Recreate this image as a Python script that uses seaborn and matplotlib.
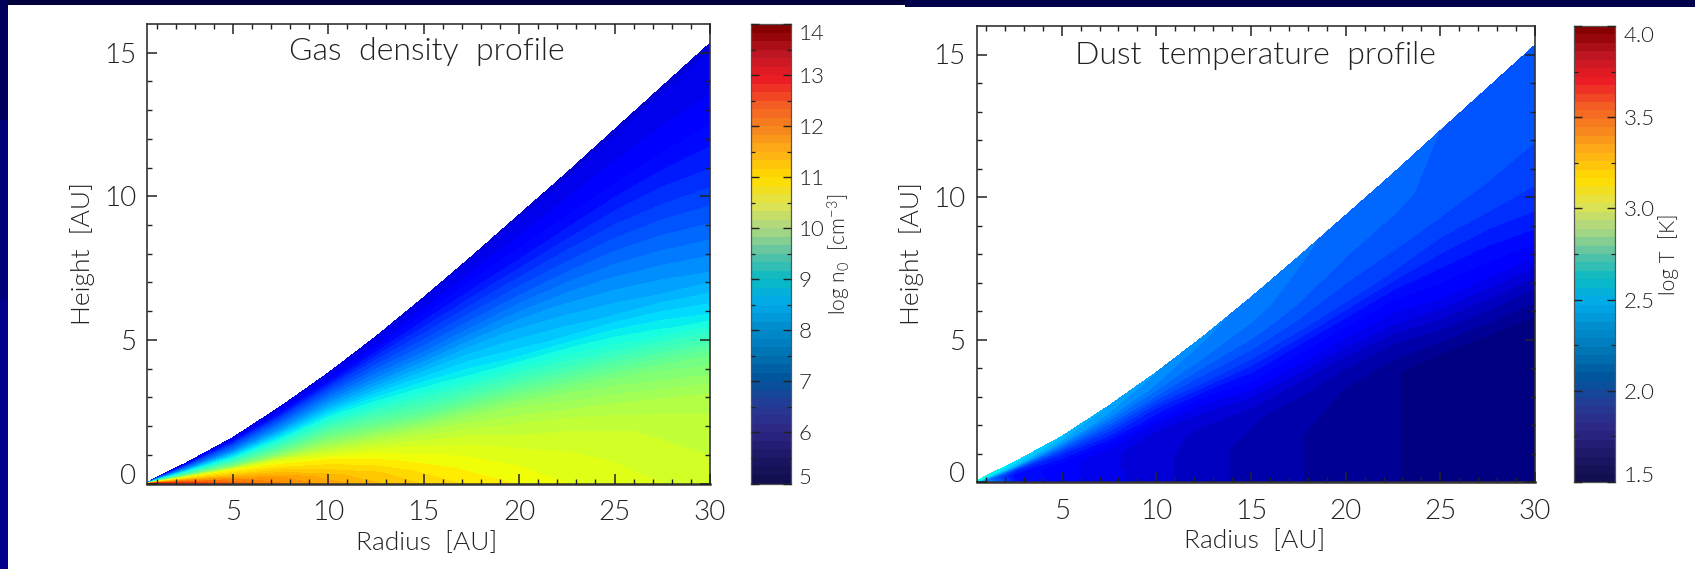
import numpy as np
import pandas as pd
import matplotlib
matplotlib.use('Agg')
import matplotlib.pyplot as plt
import seaborn as sns
from matplotlib.colors import ListedColormap
from matplotlib.patches import Rectangle

radii = [0.5, 1, 2.5, 5, 7.5, 10, 12.5, 15, 17.5, 20, 22.5, 25, 27.5, 30]
surface_height = [0.03, 0.22, 0.7, 1.6, 2.68, 3.85, 5.12, 6.48, 7.9, 9.36, 10.82, 12.33, 13.83, 15.33]

# heights as a share of the disc surface, one row per radius
gas_fractions = [0, .07, .14, .21, .29, .38, .48, .59, .7, .85, .95, 1]
gas_log_n = [
    [13.6, 12.8, 12.0, 11.3, 10.8, 9.5, 8.8, 8.15, 7.4, 6.7, 6.0, 5.8],
    [13.3, 12.6, 11.9, 11.3, 10.8, 9.5, 8.8, 8.15, 7.4, 6.7, 6.0, 5.8],
    [12.8, 12.3, 11.8, 11.2, 10.8, 9.5, 8.8, 8.15, 7.4, 6.7, 6.0, 5.8],
    [12.2, 11.9, 11.5, 11.1, 10.8, 9.5, 8.8, 8.15, 7.4, 6.7, 6.0, 5.8],
    [11.85, 11.7, 11.35, 11.0, 10.65, 9.6, 8.92, 8.28, 7.52, 6.72, 6.0, 5.8],
    [11.6, 11.4, 11.1, 10.87, 10.3, 9.68, 9.05, 8.4, 7.65, 6.75, 6.0, 5.8],
    [11.35, 11.2, 10.92, 10.65, 10.15, 9.42, 8.8, 8.15, 7.42, 6.6, 5.97, 5.8],
    [11.15, 10.95, 10.72, 10.45, 9.97, 9.15, 8.55, 7.9, 7.2, 6.45, 5.95, 5.8],
    [10.95, 10.78, 10.6, 10.34, 9.88, 9.05, 8.32, 7.75, 7.1, 6.35, 5.92, 5.8],
    [10.82, 10.65, 10.47, 10.23, 9.8, 8.94, 8.1, 7.6, 7.0, 6.25, 5.9, 5.8],
    [10.67, 10.56, 10.43, 10.17, 9.67, 8.77, 7.95, 7.45, 6.9, 6.2, 5.9, 5.8],
    [10.6, 10.48, 10.36, 10.1, 9.57, 8.6, 7.8, 7.3, 6.8, 6.15, 5.9, 5.8],
    [10.5, 10.39, 10.29, 10.03, 9.45, 8.4, 7.65, 7.15, 6.68, 6.1, 5.9, 5.8],
    [10.42, 10.32, 10.23, 9.97, 9.32, 8.2, 7.5, 7.0, 6.55, 6.05, 5.9, 5.8],
]

dust_fractions = [0, .2, .35, .45, .52, .6, .68, .78, .88, 1]
dust_log_t = [
    [2.6, 2.5, 2.45, 2.45, 2.45, 2.45, 2.45, 2.45, 2.45, 2.45],
    [2.2, 2.15, 2.12, 2.15, 2.2, 2.28, 2.35, 2.4, 2.42, 2.43],
    [1.88, 1.86, 1.85, 1.88, 1.91, 1.96, 2.08, 2.24, 2.32, 2.36],
    [1.8, 1.8, 1.8, 1.83, 1.87, 1.91, 1.98, 2.1, 2.22, 2.29],
    [1.75, 1.74, 1.74, 1.78, 1.83, 1.91, 1.98, 2.08, 2.18, 2.235],
    [1.7, 1.7, 1.71, 1.72, 1.76, 1.85, 1.92, 2.05, 2.14, 2.194],
    [1.66, 1.66, 1.67, 1.71, 1.76, 1.84, 1.96, 2.05, 2.12, 2.16],
    [1.62, 1.62, 1.65, 1.72, 1.8, 1.88, 1.98, 2.06, 2.11, 2.135],
    [1.595, 1.595, 1.62, 1.69, 1.775, 1.86, 1.98, 2.05, 2.09, 2.11],
    [1.565, 1.57, 1.59, 1.655, 1.75, 1.845, 1.97, 2.03, 2.07, 2.09],
    [1.55, 1.55, 1.55, 1.64, 1.745, 1.835, 1.96, 2.03, 2.06, 2.073],
    [1.525, 1.525, 1.525, 1.66, 1.775, 1.86, 1.95, 2.03, 2.05, 2.055],
    [1.515, 1.515, 1.515, 1.66, 1.78, 1.87, 1.96, 2.02, 2.04, 2.047],
    [1.505, 1.505, 1.505, 1.645, 1.785, 1.9, 1.963, 2.01, 2.03, 2.04],
]

x_ticks = [5, 10, 15, 20, 25, 30]
y_ticks = [0, 5, 10, 15]
gas_cbar_ticks = [5, 6, 7, 8, 9, 10, 11, 12, 13, 14]
dust_cbar_ticks = [1.5, 2.0, 2.5, 3.0, 3.5, 4.0]

# the colour bars are printed in duller colours than the maps
cbar_colors = ['#120f50', '#1e1969', '#2d2887', '#233c96', '#00559b', '#0073b4',
               '#008ccd', '#00aaeb', '#0ab9c3', '#5ac3a5', '#aad782', '#e1e450',
               '#ffdc00', '#feb414', '#f7871e', '#f35a23', '#ed1c24', '#be1622', '#870000']

W, H = 1695, 569
N_BANDS = 54

sns.set_theme(style='ticks')
plt.rcParams['font.family'] = ['Lato', 'Liberation Sans', 'DejaVu Sans']
plt.rcParams['font.weight'] = 300
plt.rcParams['mathtext.default'] = 'regular'
TEXT = '#222222'

map_cmap = plt.get_cmap('jet', N_BANDS)
bar_cmap = ListedColormap(sns.blend_palette(cbar_colors, N_BANDS))

fig = plt.figure(figsize=(W / 100, H / 100), dpi=100, facecolor='white')


def box(x0, y0, x1, y1):
    return [x0 / W, 1 - y1 / H, (x1 - x0) / W, (y1 - y0) / H]


# slide background showing round the edges
for x0, y0, x1, y1, c in [(0, 0, 905, 4.5, '#00003c'), (905, 0, W, 6.5, '#00004a'),
                          (0, 0, 8, 120, '#00005a'), (0, 120, 8, 300, '#00007a'),
                          (0, 300, 8, H, '#00008b')]:
    fig.add_artist(Rectangle((x0 / W, 1 - y1 / H), (x1 - x0) / W, (y1 - y0) / H,
                             transform=fig.transFigure, color=c, lw=0))


def draw_map(pos, fractions, table, vmin, vmax, title, title_xy, xlabel_xy, ylabel_xy):
    ax = fig.add_axes(box(*pos))
    df = pd.DataFrame(table, index=radii, columns=fractions)
    X = np.tile(df.index.values, (len(fractions), 1))
    Y = np.outer(fractions, surface_height)
    levels = np.linspace(vmin, vmax, N_BANDS + 1)
    ax.contourf(X, Y, df.values.T, levels=levels, cmap=map_cmap, extend='both')
    ax.set_axisbelow(False)
    ax.set_xlim(0.5, 30)
    ax.set_ylim(0, 16)
    ax.set_xticks(x_ticks)
    ax.set_yticks(y_ticks)
    ax.set_xticks(np.arange(1, 31), minor=True)
    ax.set_yticks(np.arange(1, 16), minor=True)
    ax.tick_params(which='both', direction='in', top=True, right=True, color='#222222')
    ax.tick_params(which='major', length=7.5, width=1.1, labelsize=20, labelcolor=TEXT)
    ax.tick_params(which='minor', length=3.6, width=1.0)
    ax.tick_params(axis='x', which='major', pad=12)
    ax.tick_params(axis='y', which='major', pad=8)
    ax.get_yticklabels()[0].set_verticalalignment('baseline')
    for s in ax.spines.values():
        s.set_linewidth(1.2)
        s.set_color('#333333')
    ax.spines['bottom'].set_linewidth(1.8)
    fig.text(title_xy[0] / W, 1 - title_xy[1] / H, title, fontsize=23, color=TEXT, ha='center', va='center')
    fig.text(xlabel_xy[0] / W, 1 - xlabel_xy[1] / H, 'Radius  [AU]', fontsize=19, color=TEXT, ha='center', va='center')
    fig.text(ylabel_xy[0] / W, 1 - ylabel_xy[1] / H, 'Height  [AU]', fontsize=19, color=TEXT, ha='center', va='center', rotation=90)
    return ax


def draw_bar(pos, vmin, vmax, ticks, labels, minor_step, label, label_xy):
    ax = fig.add_axes(box(*pos))
    bands = pd.DataFrame(np.arange(N_BANDS)[:, None])
    sns.heatmap(bands, ax=ax, cmap=bar_cmap, cbar=False, xticklabels=False, yticklabels=False)
    ax.set_axisbelow(False)
    ax.set_ylim(0, N_BANDS)
    scale = N_BANDS / (vmax - vmin)
    ax.set_yticks([(t - vmin) * scale for t in ticks])
    ax.set_yticklabels(labels)
    ax.set_yticks([(t - vmin) * scale for t in np.arange(vmin, vmax + minor_step / 2, minor_step)], minor=True)
    ax.tick_params(which='both', direction='in', left=True, right=True, labelleft=False, labelright=True, color='#222222')
    ax.tick_params(which='major', length=6, width=1.0, labelsize=16, labelcolor=TEXT, pad=6)
    ax.tick_params(which='minor', length=3, width=0.9)
    tl = ax.get_yticklabels()
    tl[0].set_verticalalignment('baseline')
    tl[-1].set_verticalalignment('top')
    for s in ax.spines.values():
        s.set_visible(True)
        s.set_linewidth(0.9)
        s.set_color('#555555')
    fig.text(label_xy[0] / W, 1 - label_xy[1] / H, label, fontsize=15, color=TEXT, ha='center', va='center', rotation=90)
    return ax


draw_map((147, 24, 710, 483.5), gas_fractions, gas_log_n, 5, 14, 'Gas  density  profile',
         (427, 52), (427, 543), (83, 254))
draw_bar((750.5, 24, 790.5, 483.5), 5, 14, gas_cbar_ticks, [str(t) for t in gas_cbar_ticks], 0.5,
         r'log n$_0$  [cm$^{-3}$]', (839, 254))
draw_map((976.5, 26, 1535, 482), dust_fractions, dust_log_t, 1.5, 4.0, 'Dust  temperature  profile',
         (1255, 55), (1255, 541), (912, 254))
draw_bar((1574, 26, 1615, 482), 1.5, 4.0, dust_cbar_ticks, ['%.1f' % t for t in dust_cbar_ticks], 0.25,
         'log T  [K]', (1669, 254))

plt.savefig('out.png', dpi=100, facecolor='white')
plt.close()
